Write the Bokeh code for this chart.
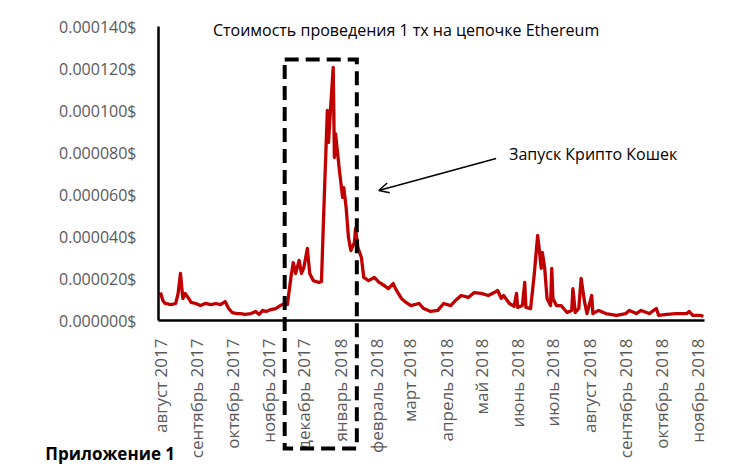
import math
import pandas as pd
from bokeh.plotting import figure
from bokeh.models import (Range1d, FixedTicker, Label, Arrow, OpenHead)
from bokeh.core.properties import value
from bokeh.embed import file_html
from bokeh.resources import INLINE

# ---- data ----
# days since 2017-08-01
day_offsets = [0, 2, 4, 9, 13, 15, 17, 19, 21, 24, 26, 30, 34, 38, 43, 47, 51, 55, 58, 61,
               65, 68, 72, 77, 81, 84, 87, 90, 94, 98, 102, 106, 108, 111, 113, 115, 118, 120, 122, 125,
               127, 130, 135, 137, 139, 142, 143, 145, 147, 148, 149, 152, 155, 156, 158, 160, 162, 165, 166, 168,
               171, 173, 177, 182, 186, 188, 194, 198, 200, 205, 209, 213, 220, 224, 230, 236, 241, 247, 251, 256,
               262, 267, 273, 279, 284, 287, 290, 292, 297, 301, 303, 304, 308, 310, 311, 315, 318, 321, 322, 324,
               325, 327, 329, 332, 333, 334, 337, 341, 346, 350, 351, 353, 356, 358, 361, 363, 367, 368, 373, 379,
               388, 396, 399, 405, 409, 416, 422, 424, 431, 439, 448, 450, 453, 460, 462]
# cost of one tx, in millionths of a dollar
cost_micro_usd = [13.3, 9.5, 8.1, 7.6, 8.1, 12.9, 22.4, 10.5, 12.9, 10.5, 8.6, 8.1, 7.1, 8.1, 7.6, 8.1, 7.6, 9.0, 5.7, 3.8,
                  3.3, 3.3, 2.9, 3.3, 4.3, 2.9, 4.8, 4.3, 5.2, 5.7, 7.1, 8.1, 7.6, 20.5, 27.6, 22.4, 28.6, 22.4, 25.2, 34.3,
                  22.4, 19.0, 18.1, 18.6, 52.4, 100.0, 84.8, 103.3, 120.5, 77.6, 89.0, 72.9, 58.6, 63.3, 53.8, 39.5, 33.3, 37.1, 43.8, 34.8,
                  30.0, 20.5, 19.0, 20.5, 18.1, 17.6, 15.2, 17.6, 15.2, 10.5, 8.6, 7.1, 8.1, 5.7, 4.3, 4.8, 8.1, 7.1, 9.5, 11.9,
                  11.0, 13.3, 12.9, 11.9, 13.3, 14.3, 10.5, 11.9, 8.1, 6.7, 12.9, 6.2, 7.1, 18.1, 6.2, 5.7, 21.4, 40.5, 35.7, 24.8,
                  32.4, 24.8, 10.5, 7.1, 24.8, 10.5, 7.1, 7.1, 3.8, 4.8, 15.2, 3.8, 5.7, 20.0, 8.6, 3.3, 11.9, 3.3, 4.8, 3.3,
                  2.4, 3.3, 4.8, 3.3, 4.8, 3.3, 5.7, 2.4, 2.9, 3.3, 3.3, 4.3, 2.4, 2.4, 1.9]

month_starts = ["2017-08-01", "2017-09-01", "2017-10-01", "2017-11-01", "2017-12-01", "2018-01-01",
                "2018-02-01", "2018-03-01", "2018-04-01", "2018-05-01", "2018-06-01", "2018-07-01",
                "2018-08-01", "2018-09-01", "2018-10-01", "2018-11-01"]
month_labels = ["август 2017", "сентябрь 2017", "октябрь 2017", "ноябрь 2017", "декабрь 2017",
                "январь 2018", "февраль 2018", "март 2018", "апрель 2018", "май 2018", "июнь 2018",
                "июль 2018", "август 2018", "сентябрь 2018", "октябрь 2018", "ноябрь 2018"]
y_ticks = [0.0, 0.00002, 0.00004, 0.00006, 0.00008, 0.00010, 0.00012, 0.00014]
y_tick_labels = ["0.000000$", "0.000020$", "0.000040$", "0.000060$", "0.000080$",
                 "0.000100$", "0.000120$", "0.000140$"]

title_text = "Стоимость проведения 1 тх на цепочке Ethereum"
note_text = "Запуск Крипто Кошек"
appendix_text = "Приложение 1"

# ---- build ----
origin = pd.Timestamp("2017-08-01")
month_ticks = [int((pd.Timestamp(m) - origin).days) for m in month_starts]
values = [v * 1e-6 for v in cost_micro_usd]

FONT = "Open Sans"

p = figure(width=726, height=466, output_backend="svg", toolbar_location=None,
           x_range=Range1d(-1.7, 463), y_range=Range1d(0, 0.00014),
           min_border_left=158, min_border_right=22, min_border_top=26, min_border_bottom=146)
p.outline_line_color = None
p.grid.visible = False
p.background_fill_color = "white"
p.border_fill_color = "white"

p.line(day_offsets, values, line_color="#C00000", line_width=3.3, line_join="round")

xa = p.xaxis[0]
xa.ticker = FixedTicker(ticks=month_ticks)
xa.major_label_overrides = {t: l for t, l in zip(month_ticks, month_labels)}
xa.major_label_orientation = math.pi / 2
xa.major_tick_line_color = None
xa.minor_tick_line_color = None
xa.axis_line_color = "black"
xa.axis_line_width = 2.5
xa.major_label_standoff = 12
xa.major_label_text_font = FONT
xa.major_label_text_font_size = "17px"
xa.major_label_text_color = "#595959"

ya = p.yaxis[0]
ya.ticker = FixedTicker(ticks=y_ticks)
ya.major_label_overrides = {t: l for t, l in zip(y_ticks, y_tick_labels)}
ya.major_tick_line_color = None
ya.minor_tick_line_color = None
ya.axis_line_color = "black"
ya.axis_line_width = 2.5
ya.major_label_standoff = 16
ya.major_label_text_font = FONT
ya.major_label_text_font_size = "16px"
ya.major_label_text_color = "#595959"

p.add_layout(Label(x=296.7, y=7.95e-5, text=note_text, text_align="left", text_baseline="middle",
                   text_font=FONT, text_font_size="16px", text_color="black"))
p.add_layout(Arrow(end=OpenHead(size=10, line_width=1.5, line_color="black"),
                   x_start=285.6, y_start=7.71e-5, x_end=185.8, y_end=6.19e-5,
                   line_width=1.5, line_color="black"))

# title and appendix caption, drawn on the overlay level so they are not clipped by the frame
p.text(x=[209], y=[1.381e-4], text=[title_text], text_align="center", text_baseline="middle",
       text_font=value(FONT), text_font_size="16px", text_color="black", level="overlay")
p.text(x=[-98], y=[-6.33e-5], text=[appendix_text], text_align="left", text_baseline="middle",
       text_font=value(FONT), text_font_size="17px", text_font_style="bold", text_color="black",
       level="overlay")

# dashed highlight box (extends below the axis), drawn on the overlay level
box_l, box_r, box_t, box_b = 105.7, 167.1, 1.243e-4, -6.1e-5
p.line([box_l, box_r, box_r, box_l, box_l], [box_t, box_t, box_b, box_b, box_t],
       line_color="black", line_width=4, line_dash="14 7", line_join="miter", level="overlay")

open("out.html", "w").write(file_html(p, INLINE))
